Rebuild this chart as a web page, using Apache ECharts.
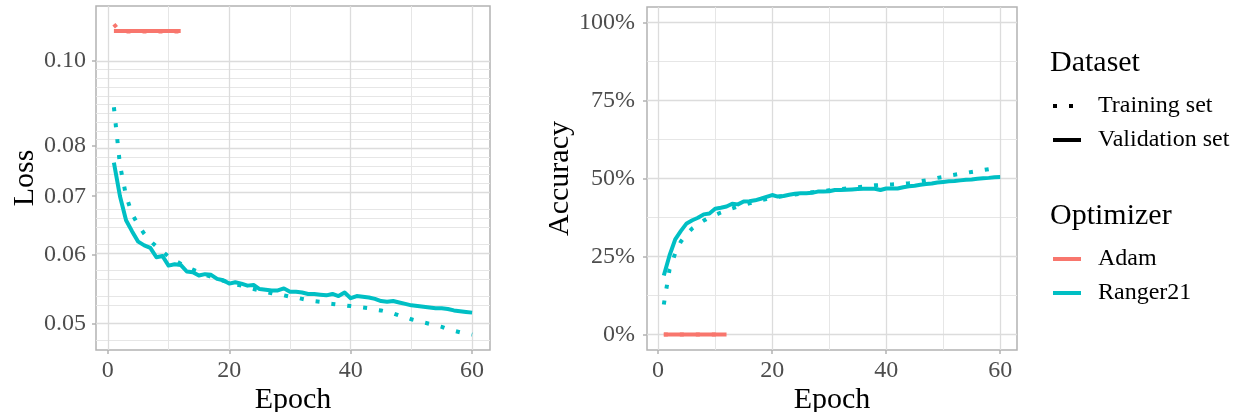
<!DOCTYPE html>
<html>
<head>
<meta charset="utf-8">
<script src="https://cdn.jsdelivr.net/npm/echarts@6/dist/echarts.min.js"></script>
<style>
html,body{margin:0;padding:0;background:#fff;overflow:hidden;}
#chart{width:1234px;height:412px;}
</style>
</head>
<body>
<div id="chart"></div>
<script>
// ---------------- data ----------------
const epochs = [1,2,3,4,5,6,7,8,9,10,11,12,13,14,15,16,17,18,19,20,21,22,23,24,25,26,27,28,29,30,
                31,32,33,34,35,36,37,38,39,40,41,42,43,44,45,46,47,48,49,50,51,52,53,54,55,56,57,58,59,60];
const epochsAdam = [1,2,3,4,5,6,7,8,9,10,11,12];

const lossTrainRanger = [0.0885,0.0760,0.0701,0.0668,0.0649,0.0634,0.0622,0.0613,0.0605,0.0597,
  0.0591,0.0586,0.0581,0.0577,0.0573,0.0569,0.0566,0.0563,0.0560,0.0558,
  0.0555,0.0553,0.0550,0.0548,0.0546,0.0544,0.0542,0.0540,0.0539,0.0537,
  0.0536,0.0534,0.0532,0.0531,0.0530,0.0528,0.0527,0.0526,0.0525,0.0524,
  0.0523,0.0522,0.0521,0.0519,0.0518,0.0516,0.0514,0.0511,0.0509,0.0506,
  0.0504,0.0502,0.0500,0.0498,0.0496,0.0493,0.0491,0.0489,0.0488,0.0486];
const lossValRanger = [0.0765,0.0700,0.0657,0.0638,0.0621,0.0615,0.0611,0.0596,0.0598,0.0583,
  0.0585,0.0584,0.0574,0.0573,0.0568,0.0570,0.0569,0.0563,0.0561,0.0556,
  0.0558,0.0556,0.0553,0.0554,0.0548,0.0547,0.0546,0.0546,0.0549,0.0544,
  0.0544,0.0543,0.0541,0.0541,0.0540,0.0539,0.0541,0.0538,0.0543,0.0535,
  0.0538,0.0537,0.0536,0.0534,0.0531,0.0530,0.0531,0.0529,0.0527,0.0525,
  0.0524,0.0523,0.0522,0.0521,0.0521,0.0520,0.0518,0.0517,0.0516,0.0515];
const lossTrainAdam = [0.1102,0.1081,0.1081,0.1081,0.1081,0.1081,0.1081,0.1081,0.1081,0.1081,0.1081,0.1081];
const lossValAdam   = [0.1082,0.1082,0.1082,0.1082,0.1082,0.1082,0.1082,0.1082,0.1082,0.1082,0.1082,0.1082];

const accTrainRanger = [9.6,20.8,26.0,29.8,32.2,34.0,35.3,36.5,37.5,38.3,
  39.1,39.8,40.4,41.0,41.5,42.0,42.6,43.0,43.4,43.8,
  44.1,44.4,44.6,44.9,45.1,45.3,45.6,45.8,46.0,46.2,
  46.4,46.6,46.8,47.0,47.2,47.4,47.6,47.8,47.9,48.0,
  48.1,48.2,48.3,48.5,48.8,49.1,49.4,49.8,50.2,50.5,
  50.9,51.2,51.5,51.8,52.1,52.4,52.7,53.0,53.3,53.5];
const accValRanger = [18.9,25.3,30.5,33.2,35.6,36.6,37.4,38.5,38.8,40.3,
  40.6,41.0,41.9,41.7,42.6,42.7,43.0,43.5,44.1,44.7,
  44.2,44.4,44.8,45.1,45.3,45.3,45.4,45.8,45.8,45.9,
  46.3,46.3,46.4,46.5,46.6,46.7,46.7,46.7,46.3,46.8,
  46.8,46.8,47.2,47.5,47.7,48.0,48.2,48.4,48.7,48.9,
  49.1,49.2,49.4,49.6,49.7,49.9,50.05,50.2,50.4,50.5];
const accTrainAdam = [0,0,0,0,0,0,0,0,0,0,0,0];
const accValAdam   = [0,0,0,0,0,0,0,0,0,0,0,0];

// tick labels / grid breaks
const epochTicks = [0,20,40,60];
const epochMinor = [10,30,50];
const lossTicks = [0.05,0.06,0.07,0.08,0.10];
const lossMinor = [0.048,0.052,0.054,0.056,0.058,0.062,0.064,0.066,0.068,0.072,0.074,0.076,0.078,
                   0.082,0.084,0.086,0.088,0.090,0.092,0.094,0.096,0.098];
const accTicks = [0,25,50,75,100];
const accMinor = [12.5,37.5,62.5,87.5];

// ---------------- styling ----------------
const RED = '#F8766D', TEAL = '#00BFC4';
const FONT = 'Liberation Serif';
const TICK_FS = 24, TITLE_FS = 30;
const MAJ = {color:'#dcdcdc', width:1.3, type:'solid'};
const MIN = {color:'#e6e6e6', width:1, type:'solid'};
const DOTS = [4, 12];

const lg = v => Math.log10(v);
const pairs = (xs, ys, f) => xs.map((x, i) => [x, f ? f(ys[i]) : ys[i]]);

function gridHelper(xi, yMaj, yMin, yf) {
  const data = [];
  epochMinor.forEach(v => data.push({xAxis: v, lineStyle: MIN}));
  yMin.forEach(v => data.push({yAxis: yf(v), lineStyle: MIN}));
  epochTicks.forEach(v => data.push({xAxis: v, lineStyle: MAJ}));
  yMaj.forEach(v => data.push({yAxis: yf(v), lineStyle: MAJ}));
  return {
    type: 'line', xAxisIndex: xi, yAxisIndex: xi, data: [], z: 1, silent: true,
    markLine: {z: 1, silent: true, symbol: ['none','none'], label: {show: false},
      emphasis: {disabled: true}, animation: false, data: data}
  };
}

function lineSeries(xi, xs, ys, f, color, dotted) {
  return {
    type: 'line', xAxisIndex: xi, yAxisIndex: xi, z: dotted ? 4 : 3,
    data: pairs(xs, ys, f), showSymbol: false, symbol: 'none', silent: true,
    clip: false,
    lineStyle: {color: color, width: 4, opacity: 1, type: dotted ? DOTS : 'solid', cap: 'butt', join: 'round'},
    emphasis: {disabled: true}
  };
}

const axisLabelBase = {fontFamily: FONT, fontSize: TICK_FS, color: '#4d4d4d'};
const nameBase = {fontFamily: FONT, fontSize: TITLE_FS, color: '#000'};
const tickBase = {show: true, inside: false, length: 4, lineStyle: {color: '#b3b3b3', width: 1.5}};

function xAxisCfg(gi) {
  return {
    type: 'value', gridIndex: gi, min: -1.95, max: 62.95, position: 'bottom',
    name: 'Epoch', nameLocation: 'middle', nameGap: 35, nameMoveOverlap: false, nameTextStyle: nameBase,
    axisLine: {show: false, onZero: false}, splitLine: {show: false},
    axisTick: Object.assign({customValues: epochTicks}, tickBase),
    axisLabel: Object.assign({customValues: epochTicks, margin: 9}, axisLabelBase)
  };
}

const gridBase = {show: true, borderColor: '#b3b3b3', borderWidth: 1.5, backgroundColor: '#fff',
  containLabel: false, outerBoundsMode: 'none'};

const option = {
  animation: false,
  backgroundColor: '#fff',
  grid: [
    Object.assign({left: 96, top: 6, width: 394, height: 344}, gridBase),
    Object.assign({left: 647, top: 7, width: 370, height: 343}, gridBase)
  ],
  xAxis: [xAxisCfg(0), xAxisCfg(1)],
  yAxis: [
    {
      type: 'value', gridIndex: 0, min: -1.331, max: -0.937, position: 'left',
      name: 'Loss', nameLocation: 'middle', nameGap: 50, nameTextStyle: nameBase,
      axisLine: {show: false, onZero: false}, splitLine: {show: false},
      axisTick: Object.assign({customValues: lossTicks.map(lg)}, tickBase),
      axisLabel: Object.assign({customValues: lossTicks.map(lg), margin: 10,
        formatter: v => Math.pow(10, v).toFixed(2)}, axisLabelBase)
    },
    {
      type: 'value', gridIndex: 1, min: -5, max: 105, position: 'left',
      name: 'Accuracy', nameLocation: 'middle', nameGap: 68, nameTextStyle: nameBase,
      axisLine: {show: false, onZero: false}, splitLine: {show: false},
      axisTick: Object.assign({customValues: accTicks}, tickBase),
      axisLabel: Object.assign({customValues: accTicks, margin: 12,
        formatter: v => Math.round(v) + '%'}, axisLabelBase)
    }
  ],
  series: [
    gridHelper(0, lossTicks, lossMinor, lg),
    gridHelper(1, accTicks, accMinor, v => v),
    lineSeries(0, epochsAdam, lossValAdam, lg, RED, false),
    lineSeries(0, epochsAdam, lossTrainAdam, lg, RED, true),
    lineSeries(0, epochs, lossValRanger, lg, TEAL, false),
    lineSeries(0, epochs, lossTrainRanger, lg, TEAL, true),
    lineSeries(1, epochsAdam, accValAdam, null, RED, false),
    lineSeries(1, epochsAdam, accTrainAdam, null, RED, true),
    lineSeries(1, epochs, accValRanger, null, TEAL, false),
    lineSeries(1, epochs, accTrainRanger, null, TEAL, true)
  ],
  graphic: [
    {type: 'text', x: 1050, y: 63, style: {text: 'Dataset', font: TITLE_FS + 'px "' + FONT + '"', fill: '#000', verticalAlign: 'middle'}},
    {type: 'line', shape: {x1: 1053, y1: 106, x2: 1082, y2: 106}, style: {stroke: '#000', lineWidth: 4, lineDash: DOTS, lineCap: 'butt'}},
    {type: 'text', x: 1098, y: 106, style: {text: 'Training set', font: TICK_FS + 'px "' + FONT + '"', fill: '#000', verticalAlign: 'middle'}},
    {type: 'line', shape: {x1: 1053, y1: 140, x2: 1081, y2: 140}, style: {stroke: '#000', lineWidth: 4, lineCap: 'butt'}},
    {type: 'text', x: 1098, y: 140, style: {text: 'Validation set', font: TICK_FS + 'px "' + FONT + '"', fill: '#000', verticalAlign: 'middle'}},
    {type: 'text', x: 1050, y: 216, style: {text: 'Optimizer', font: TITLE_FS + 'px "' + FONT + '"', fill: '#000', verticalAlign: 'middle'}},
    {type: 'line', shape: {x1: 1053, y1: 259, x2: 1081, y2: 259}, style: {stroke: RED, lineWidth: 4, lineCap: 'butt'}},
    {type: 'text', x: 1098, y: 259, style: {text: 'Adam', font: TICK_FS + 'px "' + FONT + '"', fill: '#000', verticalAlign: 'middle'}},
    {type: 'line', shape: {x1: 1053, y1: 293, x2: 1081, y2: 293}, style: {stroke: TEAL, lineWidth: 4, lineCap: 'butt'}},
    {type: 'text', x: 1098, y: 293, style: {text: 'Ranger21', font: TICK_FS + 'px "' + FONT + '"', fill: '#000', verticalAlign: 'middle'}}
  ]
};

const chart = echarts.init(document.getElementById('chart'), null, {renderer: 'canvas'});
chart.setOption(option);
</script>
</body>
</html>
